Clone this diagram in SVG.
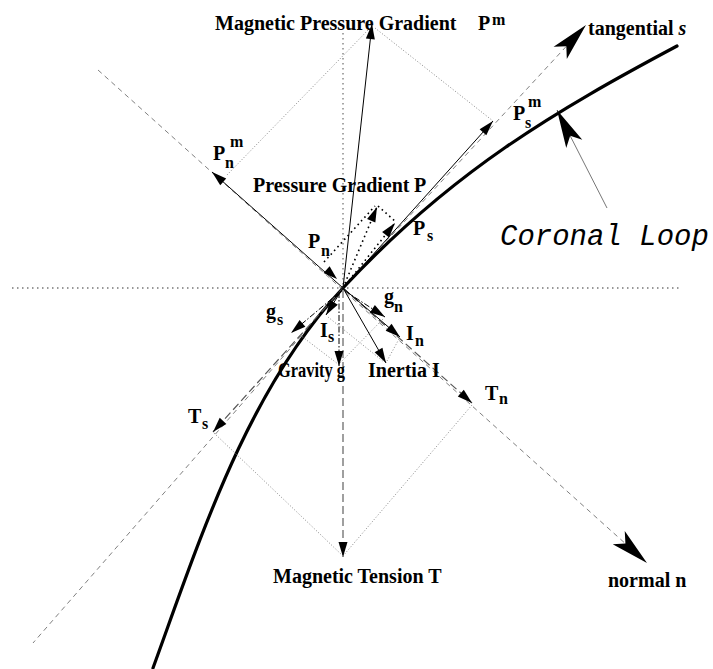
<svg xmlns="http://www.w3.org/2000/svg" width="713" height="669" viewBox="0 0 713 669">
<style>
.lbl{font-family:"Liberation Serif","Times New Roman",serif;font-weight:bold;font-size:20px;fill:#000}
.sub{font-size:16px}
.axis{stroke:#808080;stroke-width:1;stroke-dasharray:5 4;fill:none}
.ref{stroke:#777;stroke-width:1.3;stroke-dasharray:1.5 3.5;fill:none}
.para{stroke:#888;stroke-width:1;stroke-dasharray:1 2;fill:none}
.vec{stroke:#000;stroke-width:1;fill:none}
.pdot{stroke:#000;stroke-width:1.6;stroke-dasharray:1.6 3.4;fill:none}
.tdash{stroke:#555;stroke-width:1.2;stroke-dasharray:8 4;fill:none}
.gdd{stroke:#000;stroke-width:1;stroke-dasharray:6 2 1.5 2;fill:none}
.vdash{stroke:#888;stroke-width:1.6;stroke-dasharray:8 4;fill:none}
.loop{stroke:#000;stroke-width:3.2;fill:none;stroke-linecap:round}
.ptr{stroke:#777;stroke-width:1;fill:none}
</style>
<defs>
<marker id="ah" viewBox="-17 -6 18 12" markerWidth="18" markerHeight="12" refX="0" refY="0" orient="auto" markerUnits="userSpaceOnUse">
<path d="M0,0 L-15,-4.5 L-15,4.5 Z" fill="#000"/>
</marker>
<marker id="big" viewBox="-40 -11 41 22" markerWidth="41" markerHeight="22" refX="0" refY="0" orient="auto" markerUnits="userSpaceOnUse">
<path d="M0,0 L-38,-9 L-29,0 L-38,9 Z" fill="#000"/>
</marker>
</defs>
<rect width="713" height="669" fill="#fff"/>

<g id="axes">
<line class="ref" x1="12" y1="288" x2="682" y2="288"/>
<line class="ref" x1="343" y1="33" x2="343" y2="288"/>
<line class="axis" x1="343" y1="288" x2="33" y2="643"/>
<line class="axis" x1="343" y1="288" x2="586" y2="25" marker-end="url(#big)"/>
<line class="axis" x1="98" y1="70" x2="647" y2="563" marker-end="url(#big)"/>
</g>

<g id="coronal-loop">
<path class="loop" d="M153,668 C201,536 247.5,390 343,288 C452,171 556.2,110.4 677,46"/>
<line class="ptr" x1="607" y1="208" x2="557" y2="110" marker-end="url(#big)"/>
</g>

<g id="magnetic-pressure">
<line class="para" x1="370" y1="28" x2="226" y2="176"/>
<line class="para" x1="375" y1="28" x2="493" y2="121"/>
<line class="vec" x1="343" y1="288" x2="372" y2="24" marker-end="url(#ah)"/>
<line class="vec" x1="343" y1="288" x2="212" y2="172" marker-end="url(#ah)"/>
<line class="vec" x1="343" y1="288" x2="493" y2="121" marker-end="url(#ah)"/>
</g>

<g id="pressure-gradient">
<line class="pdot" x1="324" y1="262" x2="375" y2="206"/>
<line class="pdot" x1="378" y1="206" x2="396" y2="222"/>
<line class="pdot" x1="343" y1="288" x2="377" y2="207" marker-end="url(#ah)"/>
<line class="pdot" x1="343" y1="288" x2="395" y2="223" marker-end="url(#ah)"/>
<polygon points="337,279 323.6,272.9 329.6,266.3" fill="#000"/>
</g>

<g id="magnetic-tension">
<line class="vdash" x1="343" y1="290" x2="343" y2="557" marker-end="url(#ah)"/>
<line class="tdash" x1="343" y1="288" x2="213" y2="432" marker-end="url(#ah)"/>
<line class="tdash" x1="343" y1="288" x2="472" y2="403" marker-end="url(#ah)"/>
<line class="para" x1="214" y1="433" x2="343" y2="556"/>
<line class="para" x1="472" y1="405" x2="343" y2="556"/>
</g>

<g id="gravity">
<line class="gdd" x1="339" y1="292" x2="339" y2="366" marker-end="url(#ah)"/>
<line class="gdd" x1="341" y1="291" x2="291" y2="333" marker-end="url(#ah)"/>
<line class="gdd" x1="345" y1="291" x2="385" y2="317" marker-end="url(#ah)"/>
<line class="para" x1="300" y1="335" x2="338" y2="364"/>
<line class="para" x1="383" y1="319" x2="340" y2="363"/>
</g>

<g id="inertia">
<line class="vec" stroke="#333" x1="343" y1="288" x2="386" y2="363" marker-end="url(#ah)"/>
<line class="vec" x1="343" y1="288" x2="326" y2="315" marker-end="url(#ah)"/>
<line class="vec" x1="343" y1="288" x2="400" y2="337" marker-end="url(#ah)"/>
<line class="para" x1="328" y1="317" x2="384" y2="362"/>
<line class="para" x1="399" y1="339" x2="387" y2="361"/>
</g>

<g id="labels">
<text class="lbl" x="215" y="30">Magnetic Pressure Gradient</text>
<text class="lbl" x="478" y="30">P</text><text class="lbl sub" x="492" y="25">m</text>
<text class="lbl" x="588" y="35">tangential <tspan font-style="italic">s</tspan></text>
<text class="lbl" x="513" y="120">P</text><text class="lbl sub" x="525" y="128">s</text><text class="lbl sub" x="528" y="107">m</text>
<text class="lbl" x="213" y="160">P</text><text class="lbl sub" x="225" y="168">n</text><text class="lbl sub" x="230" y="147">m</text>
<text class="lbl" x="253" y="192">Pressure Gradient</text><text class="lbl" x="414" y="192">P</text>
<text class="lbl" x="413" y="235">P</text><text class="lbl sub" x="427" y="241">s</text>
<text class="lbl" x="308" y="248">P</text><text class="lbl sub" x="321" y="256">n</text>
<text x="500" y="245" font-family="'Liberation Mono','Courier New',monospace" font-style="italic" font-size="29" fill="#000">Coronal Loop</text>
<text class="lbl" x="266" y="318">g</text><text class="lbl sub" x="277" y="325">s</text>
<text class="lbl" x="384" y="303">g</text><text class="lbl sub" x="394" y="312">n</text>
<text class="lbl" x="320" y="337">I</text><text class="lbl sub" x="328" y="342">s</text>
<text class="lbl" x="406" y="340">I</text><text class="lbl sub" x="415" y="346">n</text>
<text class="lbl" x="278" y="377" textLength="67" lengthAdjust="spacingAndGlyphs">Gravity g</text>
<text class="lbl" x="368" y="377">Inertia I</text>
<text class="lbl" x="485" y="400">T</text><text class="lbl sub" x="499" y="404">n</text>
<text class="lbl" x="188" y="423">T</text><text class="lbl sub" x="202" y="429">s</text>
<text class="lbl" x="273" y="583">Magnetic Tension T</text>
<text class="lbl" x="608" y="587">normal n</text>
</g>
</svg>
